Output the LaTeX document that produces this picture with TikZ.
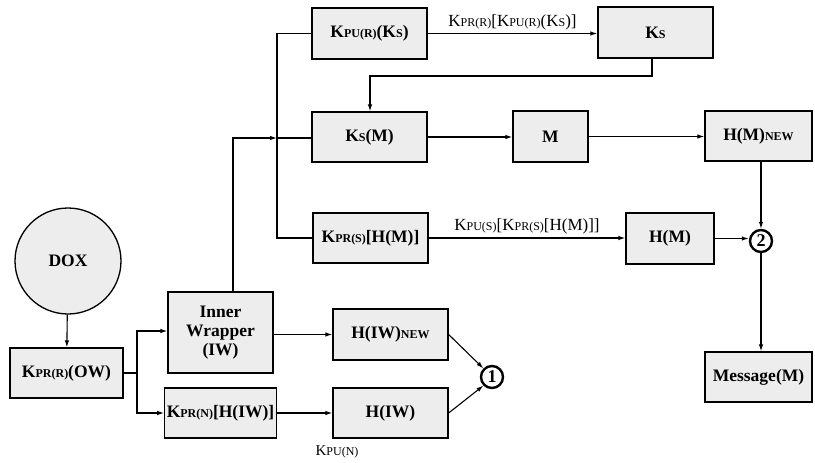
\documentclass[tikz,border=0pt]{standalone}
\usepackage{fontspec}
\setmainfont{Liberation Serif}
\usetikzlibrary{arrows.meta}
\newcommand\sm[1]{{\fontsize{12}{13}\selectfont #1}}
\newcommand\lsm[1]{{\fontsize{12}{13}\selectfont #1}}
\tikzset{
  box/.style={draw=black, line width=1.3pt, fill=black!7, inner sep=2pt,
    font=\fontsize{17.5}{19}\selectfont\bfseries, align=center},
  circnum/.style={circle, draw=black, line width=2.4pt, inner sep=0pt, minimum size=22pt,
    font=\fontsize{18}{18}\selectfont\bfseries},
  conn/.style={line width=1.1pt},
  arr/.style={line width=1.1pt, -{Latex[length=7pt,width=4.5pt]}},
  elabel/.style={font=\fontsize{17}{18}\selectfont, inner sep=3pt}
}
\begin{document}
\begin{tikzpicture}[x=1pt,y=-1pt]
\useasboundingbox (0,0) rectangle (815,463);
% nodes
\node[box, circle, minimum size=106pt] (dox) at (68,261) {DOX};
\node[box, minimum width=113pt, minimum height=50pt] (ow) at (66.5,373) {K\sm{PR(R)}(OW)};
\node[box, minimum width=105pt, minimum height=81pt] (iw) at (220.5,332.5) {Inner\\Wrapper\\(IW)};
\node[box, minimum width=105pt, minimum height=50pt] (kpn) at (220.5,413) {K\sm{PR(N)}[H(IW)]};
\node[box, minimum width=115pt, minimum height=51pt] (hiwn) at (390.5,334.5) {H(IW)\sm{NEW}};
\node[box, minimum width=115pt, minimum height=50pt] (hiw) at (390.5,413) {H(IW)};
\node[circnum] (one) at (492,377) {1};
\node[box, minimum width=115pt, minimum height=51pt] (kpu) at (369.5,33.5) {K\sm{PU(R)}(K\sm{S})};
\node[box, minimum width=115pt, minimum height=51pt] (ks) at (655.5,32.5) {K\sm{S}};
\node[box, minimum width=115pt, minimum height=50pt] (ksm) at (369.5,137) {K\sm{S}(M)};
\node[box, minimum width=75pt, minimum height=51pt] (m) at (550.5,136.5) {M};
\node[box, minimum width=107pt, minimum height=50pt] (hmn) at (758.5,136) {H(M)\sm{NEW}};
\node[box, minimum width=115pt, minimum height=50pt] (kps) at (370.5,238) {K\sm{PR(S)}[H(M)]};
\node[box, minimum width=88pt, minimum height=51pt] (hm) at (670,238.5) {H(M)};
\node[circnum] (two) at (761,241) {2};
\node[box, minimum width=107pt, minimum height=50pt] (msg) at (758.5,377) {Message(M)};
\coordinate (jn) at (277,138);
\coordinate (fork) at (137,373);
% connectors
\draw[arr] (dox) -- (ow);
\draw[conn] (ow.east) -- (fork);
\draw[arr] (fork) |- (137,331) -- (iw.west |- 0,331);
\draw[arr] (fork) |- (kpn.west);
\draw[arr] (iw.north -| 233,0) |- (jn);
\draw[conn] (jn) -- (ksm.west |- jn);
\draw[conn] (kpu.west) -| (jn) |- (kps.west);
\draw[arr] (kpu.east) -- node[elabel, above] {K\lsm{PR(R)}[K\lsm{PU(R)}(K\lsm{S})]} (ks.west |- kpu.east);
\draw[arr] (ks.south -| 652,0) |- (370,76) -- (ksm.north -| 370,0);
\draw[arr] (ksm.east) -- (m.west |- ksm.east);
\draw[arr] (m.east) -- (hmn.west |- m.east);
\draw[arr] (hmn.south -| two) -- (two.north);
\draw[arr] (kps.east) -- node[elabel, above] {K\lsm{PU(S)}[K\lsm{PR(S)}[H(M)]]} (hm.west |- kps.east);
\draw[arr] (hm.east) -- (two.west |- hm.east);
\draw[arr] (two.south) -- (msg.north -| two);
\draw[arr] (iw.east |- hiwn.west) -- (hiwn.west);
\draw[arr] (kpn.east) -- (hiw.west |- kpn.east);
\draw[arr] (hiwn.east) -- (one.north west);
\draw[arr] (hiw.east) -- (one.south west);
\node[elabel, font=\fontsize{15}{16}\selectfont] (kpun) at (337,452) {K\lsm{PU(N)}};
\end{tikzpicture}
\end{document}
